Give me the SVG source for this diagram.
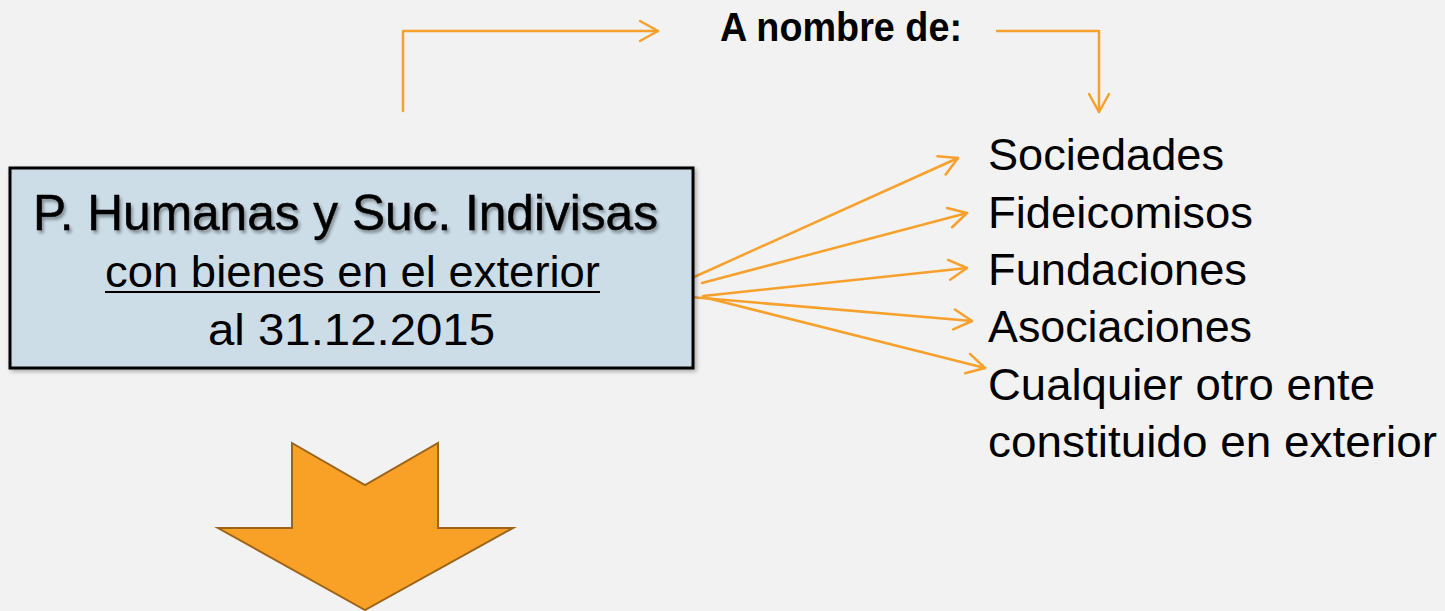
<svg xmlns="http://www.w3.org/2000/svg" width="1445" height="611" viewBox="0 0 1445 611">
<defs>
<style>
.conn{fill:none;stroke:#F7A02C;stroke-width:2.5;stroke-linecap:round;stroke-linejoin:round}
.box{fill:#CCDDE8;stroke:#000;stroke-width:3}
.narrow{font-family:"Liberation Sans Narrow","Liberation Sans",Arial,sans-serif;fill:#000}
.item{font-family:"Liberation Sans",Arial,sans-serif;font-size:45px;fill:#000}
.head{font-family:"Liberation Sans Narrow","Liberation Sans",Arial,sans-serif;font-size:41px;font-weight:bold;fill:#000}
</style>
<marker id="chev" markerUnits="userSpaceOnUse" viewBox="-20 -12 24 24" markerWidth="24" markerHeight="24" refX="0" refY="0" orient="auto">
<path d="M-18,-10 L0,0 L-18,10" fill="none" stroke="#F7A02C" stroke-width="2.5" stroke-linecap="round" stroke-linejoin="round"/>
</marker>
<filter id="tshadow" x="-5%" y="-20%" width="110%" height="150%">
<feDropShadow dx="2" dy="3" stdDeviation="1.5" flood-color="#000" flood-opacity="0.35"/>
</filter>
<filter id="bshadow" x="-5%" y="-5%" width="110%" height="115%">
<feDropShadow dx="2" dy="2" stdDeviation="2" flood-color="#000" flood-opacity="0.3"/>
</filter>
</defs>
<rect width="1445" height="611" fill="#F2F2F2"/>

<g id="connectors">
<polyline class="conn" points="403,111 403,31 658,31" marker-end="url(#chev)"/>
<polyline class="conn" points="997,31 1099,31 1099,112" marker-end="url(#chev)"/>
<line class="conn" x1="683" y1="282" x2="958" y2="158" marker-end="url(#chev)"/>
<line class="conn" x1="702" y1="283" x2="967" y2="213" marker-end="url(#chev)"/>
<line class="conn" x1="703" y1="296" x2="967" y2="268" marker-end="url(#chev)"/>
<line class="conn" x1="690" y1="297" x2="972" y2="321" marker-end="url(#chev)"/>
<line class="conn" x1="703" y1="297" x2="985" y2="368" marker-end="url(#chev)"/>
</g>

<g id="node-personas">
<rect class="box" x="10" y="168" width="683" height="200" filter="url(#bshadow)"/>
<text class="narrow" x="33" y="230" font-size="50" textLength="625" lengthAdjust="spacingAndGlyphs" stroke="#000" stroke-width="0.5" filter="url(#tshadow)">P. Humanas y Suc. Indivisas</text>
<text class="narrow" x="105" y="287" font-size="44" textLength="495" lengthAdjust="spacingAndGlyphs">con bienes en el exterior</text>
<line x1="105" y1="292" x2="600" y2="292" stroke="#000" stroke-width="2"/>
<text class="narrow" x="208" y="345" font-size="44" textLength="287" lengthAdjust="spacingAndGlyphs">al 31.12.2015</text>
</g>

<g id="node-nombre">
<text class="head" x="720" y="41" textLength="242" lengthAdjust="spacingAndGlyphs">A nombre de:</text>
</g>

<g id="node-entes">
<text class="item" x="988" y="170" textLength="236" lengthAdjust="spacingAndGlyphs">Sociedades</text>
<text class="item" x="988" y="228" textLength="265" lengthAdjust="spacingAndGlyphs">Fideicomisos</text>
<text class="item" x="988" y="285" textLength="259" lengthAdjust="spacingAndGlyphs">Fundaciones</text>
<text class="item" x="988" y="342" textLength="264" lengthAdjust="spacingAndGlyphs">Asociaciones</text>
<text class="item" x="988" y="400" textLength="387" lengthAdjust="spacingAndGlyphs">Cualquier otro ente</text>
<text class="item" x="988" y="457" textLength="449" lengthAdjust="spacingAndGlyphs">constituido en exterior</text>
</g>

<g id="node-flecha">
<polygon points="292,443 365,485 438,443 438,528 513,528 365,610 218,528 292,528" fill="#F9A126" stroke="#9C6418" stroke-width="2"/>
</g>
</svg>
